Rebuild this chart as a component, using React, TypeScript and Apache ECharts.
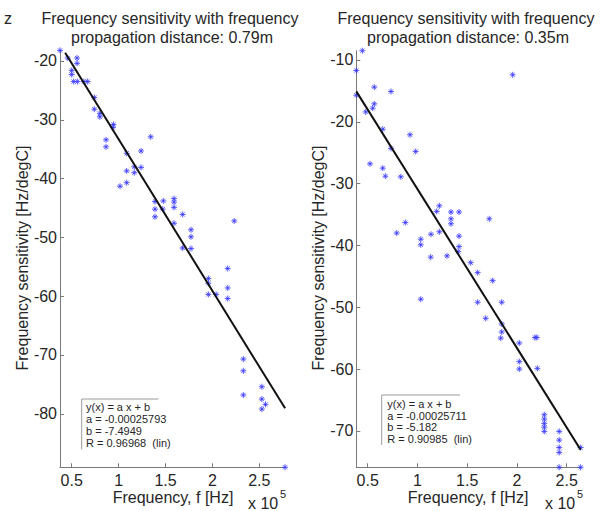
import React, { useEffect, useRef } from "react";
import * as echarts from "echarts";

// ---- data (x in units of 1e5 Hz, y in Hz/degC) ----
const leftX = [0.375, 0.457, 0.5, 0.5, 0.557, 0.557, 0.52, 0.56, 0.63, 0.67, 0.741, 0.741, 0.8, 0.8, 0.944, 0.94, 0.866, 0.866, 1.342, 1.239, 1.086, 1.086, 1.167, 1.239, 1.167, 1.086, 1.015, 1.388, 1.477, 1.591, 1.591, 1.388, 1.47, 1.591, 1.388, 1.683, 1.591, 2.233, 1.772, 1.772, 1.683, 1.772, 2.163, 1.957, 1.957, 2.163, 1.957, 2.04, 2.163, 2.33, 2.33, 2.33, 2.527, 2.527, 2.527, 2.566, 2.774];
const leftY = [-18.2, -19.5, -21.6, -22.3, -19.5, -20.4, -23.5, -23.5, -23.5, -23.5, -26.2, -28.2, -28.9, -29.5, -30.8, -31.3, -33.4, -34.6, -32.9, -35.3, -35.7, -38.7, -38.0, -38.1, -39.0, -40.7, -41.3, -43.9, -43.8, -43.4, -44.0, -45.2, -45.2, -44.9, -46.5, -46.1, -47.6, -47.2, -48.7, -49.9, -51.8, -51.9, -55.3, -57.0, -57.8, -58.6, -59.7, -59.7, -60.4, -70.7, -72.7, -76.8, -75.4, -77.5, -79.2, -78.4, -89.1];
const rightX = [0.446, 0.385, 0.385, 0.48, 0.566, 0.566, 0.55, 0.734, 0.651, 0.734, 0.523, 0.651, 0.677, 0.832, 0.925, 0.982, 1.957, 0.878, 0.791, 1.22, 1.193, 1.337, 1.418, 1.337, 1.337, 1.722, 1.136, 1.22, 1.418, 1.033, 1.033, 1.418, 1.133, 1.297, 1.41, 1.535, 1.605, 1.756, 1.033, 1.605, 1.847, 1.686, 1.847, 1.847, 1.837, 2.181, 2.2, 2.024, 2.024, 2.024, 2.205, 2.275, 2.275, 2.275, 2.275, 2.275, 2.425, 2.425, 2.425, 2.425, 2.425, 2.64, 2.64];
const rightY = [-8.5, -11.7, -15.7, -18.4, -14.4, -17.1, -17.8, -15.1, -21.2, -24.3, -26.8, -27.5, -28.8, -28.9, -22.1, -24.8, -12.4, -36.3, -38.0, -33.6, -34.5, -34.6, -34.6, -35.7, -36.5, -35.7, -38.2, -37.8, -38.5, -39.0, -39.9, -40.2, -41.9, -41.7, -41.0, -42.8, -44.4, -45.7, -48.7, -49.2, -49.2, -51.8, -52.7, -54.0, -55.0, -54.9, -54.9, -55.8, -58.8, -60.0, -59.9, -67.4, -68.1, -68.8, -69.4, -70.1, -70.1, -71.5, -72.7, -73.5, -75.9, -72.7, -75.9];

const leftFitX = [0.43, 2.775];
const leftFitY = [-18.6, -79.07];
const rightFitX = [0.385, 2.64];
const rightFitY = [-15.08, -73.06];

const xTicks = [0.5, 1, 1.5, 2, 2.5];
const leftYTicks = [-80, -70, -60, -50, -40, -30, -20];
const rightYTicks = [-70, -60, -50, -40, -30, -20, -10];

const leftTitle = ["Frequency sensitivity with frequency", "propagation distance: 0.79m"];
const rightTitle = ["Frequency sensitivity with frequency", "propagation distance: 0.35m"];
const leftFitText = ["y(x) = a x + b", "a = -0.00025793", "b = -7.4949", "R = 0.96968  (lin)"];
const rightFitText = ["y(x) = a x + b", "a = -0.00025711", "b = -5.182", "R = 0.90985  (lin)"];
const xName = "Frequency, f [Hz]";
const yName = "Frequency sensitivity [Hz/degC]";

const FONT = "'Liberation Sans', Arial, sans-serif";
const TXT = "#262626";
const AX = "#7a7a7a";
const STAR = "path://M5,0L5,10M0,5L10,5M1.6,1.6L8.4,8.4M1.6,8.4L8.4,1.6";

const zip = (a: number[], b: number[]) => a.map((v, i) => [v, b[i]]);

function xAxisCfg(grid: number, min: number, max: number) {
  return {
    type: "value",
    gridIndex: grid,
    min,
    max,
    axisLine: { show: true, lineStyle: { color: AX, width: 1 } },
    axisTick: { show: true, inside: true, length: 4, lineStyle: { color: AX }, customValues: xTicks },
    axisLabel: {
      color: TXT,
      fontSize: 16,
      fontFamily: FONT,
      margin: 5,
      customValues: xTicks,
      formatter: (v: number) => String(v),
    },
    splitLine: { show: false },
  };
}

function yAxisCfg(grid: number, min: number, max: number, ticks: number[]) {
  return {
    type: "value",
    gridIndex: grid,
    min,
    max,
    axisLine: { show: true, lineStyle: { color: AX, width: 1 } },
    axisTick: { show: true, inside: true, length: 4, lineStyle: { color: AX }, customValues: ticks },
    axisLabel: {
      color: TXT,
      fontSize: 16,
      fontFamily: FONT,
      margin: 3,
      customValues: ticks,
      formatter: (v: number) => String(v),
    },
    splitLine: { show: false },
  };
}

function txt(x: number, y: number, text: string, size: number, align = "center", extra: any = {}) {
  return {
    type: "text",
    x,
    y,
    ...extra,
    style: {
      text,
      fill: TXT,
      font: `${size}px ${FONT}`,
      textAlign: align,
      textVerticalAlign: "middle",
    },
  };
}

function fitBox(x0: number, yTop: number, yBot: number, xRight: number, lines: string[], tx: number, ty: number[]) {
  const els: any[] = [
    { type: "line", shape: { x1: x0, y1: yTop, x2: xRight, y2: yTop }, style: { stroke: "#9a9a9a", lineWidth: 1 } },
    { type: "line", shape: { x1: x0, y1: yTop, x2: x0, y2: yBot }, style: { stroke: "#9a9a9a", lineWidth: 1 } },
  ];
  lines.forEach((l, i) => els.push(txt(tx, ty[i], l, 11, "left")));
  return els;
}

export default function App() {
  const ref = useRef<HTMLDivElement>(null);
  useEffect(() => {
    if (!ref.current) return;
    const chart = echarts.init(ref.current, null, { renderer: "svg" });
    const starStyle = { color: "transparent", borderColor: "#3535ff", borderWidth: 1 };
    const option: any = {
      animation: false,
      backgroundColor: "#ffffff",
      grid: [
        { left: 60, top: 50.4, width: 225, height: 416.9 },
        { left: 356.3, top: 50.7, width: 224.3, height: 416.6 },
      ],
      xAxis: [xAxisCfg(0, 0.375, 2.774), xAxisCfg(1, 0.385, 2.64)],
      yAxis: [yAxisCfg(0, -89.1, -18.2, leftYTicks), yAxisCfg(1, -75.9, -8.5, rightYTicks)],
      series: [
        {
          type: "scatter",
          xAxisIndex: 0,
          yAxisIndex: 0,
          data: zip(leftX, leftY),
          symbol: STAR,
          symbolSize: 6,
          itemStyle: starStyle,
          clip: false,
        },
        {
          type: "line",
          xAxisIndex: 0,
          yAxisIndex: 0,
          data: zip(leftFitX, leftFitY),
          symbol: "none",
          lineStyle: { color: "#111", width: 2 },
        },
        {
          type: "scatter",
          xAxisIndex: 1,
          yAxisIndex: 1,
          data: zip(rightX, rightY),
          symbol: STAR,
          symbolSize: 6,
          itemStyle: starStyle,
          clip: false,
        },
        {
          type: "line",
          xAxisIndex: 1,
          yAxisIndex: 1,
          data: zip(rightFitX, rightFitY),
          symbol: "none",
          lineStyle: { color: "#111", width: 2 },
        },
      ],
      graphic: [
        txt(4, 18, "z", 16, "left"),
        txt(170, 18, leftTitle[0], 16),
        txt(172, 37, leftTitle[1], 16),
        txt(466, 18, rightTitle[0], 16),
        txt(468, 37, rightTitle[1], 16),
        txt(22, 258, yName, 16, "center", { rotation: Math.PI / 2 }),
        txt(318, 258, yName, 16, "center", { rotation: Math.PI / 2 }),
        txt(173, 497, xName, 16),
        txt(468, 497, xName, 16),
        txt(248, 503, "x 10", 16, "left"),
        txt(280, 494, "5", 11, "left"),
        txt(545, 503, "x 10", 16, "left"),
        txt(577, 494, "5", 11, "left"),
        ...fitBox(81.7, 399, 449.3, 158.3, leftFitText, 86, [406.7, 418.5, 431, 443.3]),
        ...fitBox(381.7, 395, 445, 460, rightFitText, 387.3, [404, 415.7, 427.3, 439]),
      ],
    };
    chart.setOption(option);
    return () => chart.dispose();
  }, []);
  return (
    <div
      ref={ref}
      style={{ position: "absolute", left: 0, top: 0, width: 601, height: 511 }}
    />
  );
}
